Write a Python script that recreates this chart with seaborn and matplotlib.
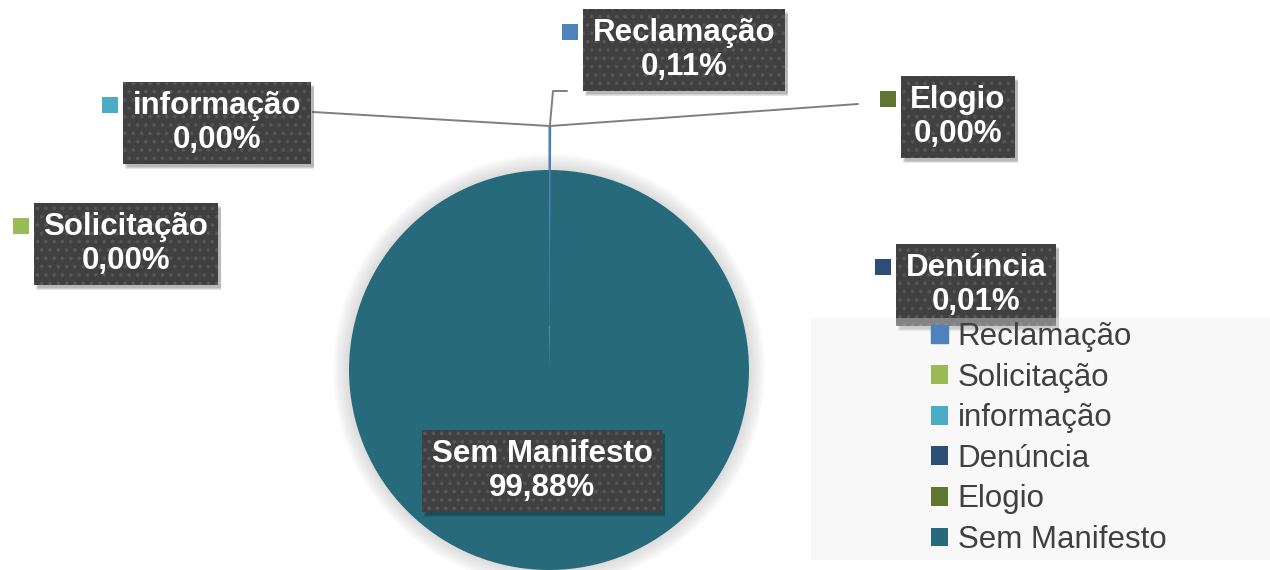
import matplotlib
matplotlib.use('Agg')
import matplotlib.pyplot as plt
from matplotlib.patches import Rectangle, Circle
from matplotlib.transforms import IdentityTransform
import numpy as np
import seaborn as sns

# Data
categorias = ['Reclamação', 'Solicitação', 'informação', 'Denúncia', 'Elogio', 'Sem Manifesto']
percentuais = [0.11, 0.00, 0.00, 0.01, 0.00, 99.88]
cores = ['#4F81BD', '#9BBB59', '#4BACC6', '#2C4D75', '#5F7530', '#276A7C']

# label box centres (data units, pie radius = 1)
pos_rotulos = [(0.675, 1.60), (-2.115, 0.63), (-1.66, 1.235), (2.135, 0.425), (2.045, 1.265), (-0.035, -0.505)]

sns.set_theme(style='white')
plt.rcParams['font.family'] = ['Liberation Sans', 'DejaVu Sans']
plt.rcParams['hatch.linewidth'] = 1.5

fig = plt.figure(figsize=(12.7, 5.7), dpi=100)
ax = fig.add_axes([0, 0, 1, 1])
ax.axis('off')

# soft glow around the pie
for k in range(10):
    ax.add_patch(Circle((0, 0), 1 + 0.008 * (k + 1), color='#909090', alpha=0.03, lw=0, zorder=0))

explode = [0.22 if v < 1 else 0 for v in percentuais]
wedges, _ = ax.pie(percentuais, colors=cores, startangle=90, counterclock=False,
                   explode=explode, radius=1, wedgeprops=dict(linewidth=0))
for w, v in zip(wedges, percentuais):
    w.set_zorder(2)
    if 0.05 < v < 1:
        w.set_edgecolor(w.get_facecolor())
        w.set_linewidth(1.0)

ax.set_xlim(-2.745, 3.605)
ax.set_ylim(-1.0, 1.85)
ax.set_aspect('equal')
ax.set_autoscale_on(False)

# tip of the exploded small slices (where leader lines meet)
w0 = wedges[0]
ang = np.deg2rad((w0.theta1 + w0.theta2) / 2)
tip = (w0.center[0] + w0.r * np.cos(ang), w0.center[1] + w0.r * np.sin(ang))

lc = '#7f7f7f'
ax.plot([tip[0], -1.18], [tip[1], 1.29], color=lc, lw=1.4, zorder=3)
ax.plot([tip[0], 1.545], [tip[1], 1.33], color=lc, lw=1.4, zorder=3)
ax.plot([tip[0], 0.02, 0.09], [tip[1], 1.395, 1.395], color=lc, lw=1.4, zorder=3)

# data labels
textos = []
for nome, v, (x, y) in zip(categorias, percentuais, pos_rotulos):
    rot = f'{nome}\n{v:.2f}%'.replace('.', ',')
    t = ax.text(x, y, rot, ha='center', va='center', fontsize=22.5, fontweight='bold',
                color='white', linespacing=1.15, zorder=5,
                bbox=dict(boxstyle='square,pad=0.3', fc='#404040', ec='#555555', lw=0.0,
                          hatch='..'))
    textos.append(t)

fig.canvas.draw()
for t, c, nome in zip(textos, cores, categorias):
    bb = t.get_bbox_patch().get_window_extent()
    # soft drop shadow
    for k, a in enumerate([0.10, 0.10, 0.10]):
        ax.add_patch(Rectangle((bb.x0 + 2 + k, bb.y0 - 5 + k), bb.width + 1 - k, bb.height,
                               transform=IdentityTransform(), facecolor='#000000', alpha=a,
                               edgecolor='none', zorder=4))
    if nome == 'Sem Manifesto':
        continue
    fig.add_artist(Rectangle((bb.x0 - 21, bb.y1 - 31), 16, 16, transform=IdentityTransform(),
                             facecolor=c, edgecolor='none', zorder=6))

# legend background (slightly translucent, covers part of a label)
fig.add_artist(Rectangle((811 / 1270, 10 / 570), 459 / 1270, 242 / 570, transform=fig.transFigure,
                         facecolor='#EDEDED', alpha=0.39, edgecolor='none', zorder=7))

leg = fig.legend(wedges, categorias, loc='upper left', bbox_to_anchor=(931 / 1270, 1 - 322 / 570),
                 frameon=False, fontsize=22.5, handlelength=0.55, handleheight=0.55,
                 handletextpad=0.3, labelspacing=0.34, borderpad=0, borderaxespad=0)
leg.set_zorder(8)
for txt in leg.get_texts():
    txt.set_color('#404040')

fig.savefig('out.png', dpi=100)
